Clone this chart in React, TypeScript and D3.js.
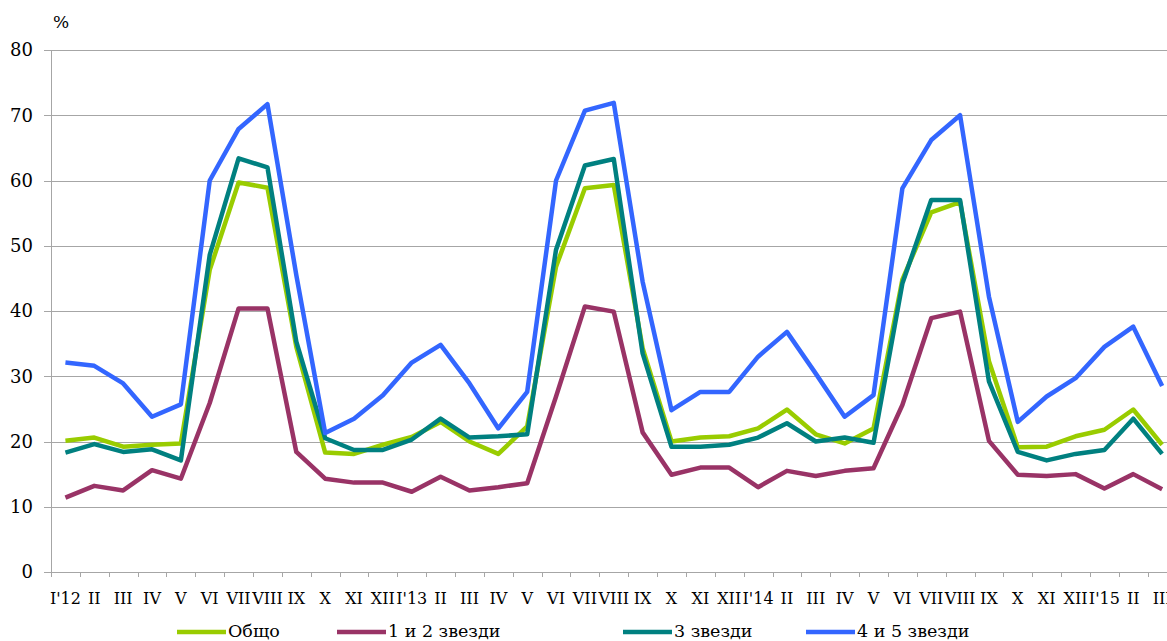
import React from "react";
import * as d3 from "d3";

const categories = [
  "I'12", "II", "III", "IV", "V", "VI", "VII", "VIII", "IX", "X", "XI", "XII",
  "I'13", "II", "III", "IV", "V", "VI", "VII", "VIII", "IX", "X", "XI", "XII",
  "I'14", "II", "III", "IV", "V", "VI", "VII", "VIII", "IX", "X", "XI", "XII",
  "I'15", "II", "III",
];

const obshto = [
  20.1, 20.6, 19.2, 19.5, 19.7, 46.3, 59.7, 58.9, 34.5, 18.3, 18.1, 19.5,
  20.7, 23.0, 20.0, 18.1, 22.3, 46.8, 58.8, 59.3, 34.3, 20.0, 20.6, 20.8,
  22.0, 24.9, 21.1, 19.7, 22.0, 44.8, 55.1, 56.7, 32.3, 19.1, 19.2, 20.8,
  21.8, 24.9, 19.5,
];
const stars12 = [
  11.4, 13.2, 12.5, 15.6, 14.3, 25.9, 40.4, 40.4, 18.4, 14.3, 13.7, 13.7,
  12.3, 14.6, 12.5, 13.0, 13.6, 26.9, 40.7, 39.9, 21.4, 14.9, 16.0, 16.0,
  13.0, 15.5, 14.7, 15.5, 15.9, 25.6, 38.9, 39.9, 20.1, 14.9, 14.7, 15.0,
  12.8, 15.0, 12.7,
];
const stars3 = [
  18.3, 19.6, 18.4, 18.8, 17.1, 48.6, 63.4, 62.0, 35.3, 20.5, 18.7, 18.7,
  20.3, 23.5, 20.6, 20.8, 21.1, 49.4, 62.3, 63.3, 33.5, 19.2, 19.2, 19.5,
  20.6, 22.8, 20.0, 20.6, 19.8, 44.2, 57.0, 57.0, 29.2, 18.4, 17.1, 18.1,
  18.7, 23.5, 18.1,
];
const stars45 = [
  32.1, 31.6, 28.9, 23.8, 25.7, 60.0, 67.9, 71.7, 45.5, 21.3, 23.5, 27.1,
  32.1, 34.8, 28.9, 22.0, 27.6, 60.0, 70.7, 71.9, 44.5, 24.8, 27.6, 27.6,
  33.0, 36.8, 30.4, 23.8, 27.1, 58.8, 66.2, 70.0, 42.2, 23.0, 26.9, 29.7,
  34.5, 37.6, 28.5,
];

const yTicks = [0, 10, 20, 30, 40, 50, 60, 70, 80];

const seriesNames = ["Общо", "1 и 2 звезди", "3 звезди", "4 и 5 звезди"];
const seriesData = [obshto, stars12, stars3, stars45];
const seriesColors = ["#99cc00", "#993366", "#008080", "#3366ff"];

const W = 1167;
const H = 641;
const left = 51;
const bandW = 28.86;
const top = 50;
const bottom = 572;

const FONT = "'DejaVu Serif', 'Liberation Serif', 'Noto Serif', 'Times New Roman', Times, serif";

export default function App() {
  const idx = categories.map((_, i) => i);
  const x = d3
    .scaleBand<number>()
    .domain(idx)
    .range([left, left + bandW * categories.length])
    .paddingInner(0)
    .paddingOuter(0);
  const y = d3.scaleLinear().domain([0, 80]).range([bottom, top]);
  const cx = (i: number) => (x(i) as number) + x.bandwidth() / 2;

  const line = d3
    .line<number>()
    .x((_, i) => cx(i))
    .y((d) => y(d));

  const legendX = [177, 337, 623, 806];
  const txt = { fontFamily: FONT };

  return (
    <svg
      width={W}
      height={H}
      style={{ position: "absolute", left: 0, top: 0, background: "#fff" }}
    >
      {yTicks.map((t) => (
        <g key={t}>
          <line
            x1={44}
            x2={W}
            y1={Math.round(y(t)) + 0.5}
            y2={Math.round(y(t)) + 0.5}
            stroke="#a6a6a6"
            strokeWidth={1}
          />
          <text
            x={33}
            y={y(t)}
            dy="0.36em"
            textAnchor="end"
            fontSize={18}
            fill="#000"
            style={txt}
          >
            {t}
          </text>
        </g>
      ))}
      <line
        x1={left + 0.5}
        x2={left + 0.5}
        y1={top}
        y2={bottom + 5}
        stroke="#a6a6a6"
        strokeWidth={1}
      />
      {idx.map((i) => (
        <line
          key={i}
          x1={Math.round(x(i) as number) + 0.5}
          x2={Math.round(x(i) as number) + 0.5}
          y1={bottom}
          y2={bottom + 5}
          stroke="#a6a6a6"
          strokeWidth={1}
        />
      ))}
      {categories.map((c, i) => (
        <text
          key={i}
          x={cx(i)}
          y={604}
          textAnchor="middle"
          fontSize={16}
          fill="#000"
          style={txt}
        >
          {c}
        </text>
      ))}
      <text x={53} y={28} fontSize={17} fill="#000" style={txt}>
        %
      </text>
      {seriesData.map((s, k) => (
        <path
          key={k}
          d={line(s) || ""}
          fill="none"
          stroke={seriesColors[k]}
          strokeWidth={4.5}
          strokeLinejoin="round"
        />
      ))}
      {seriesNames.map((n, k) => (
        <g key={k}>
          <line
            x1={legendX[k]}
            x2={legendX[k] + 49}
            y1={632}
            y2={632}
            stroke={seriesColors[k]}
            strokeWidth={4.5}
          />
          <text
            x={legendX[k] + 51}
            y={637}
            fontSize={17.5}
            fill="#000"
            style={txt}
          >
            {n}
          </text>
        </g>
      ))}
    </svg>
  );
}
